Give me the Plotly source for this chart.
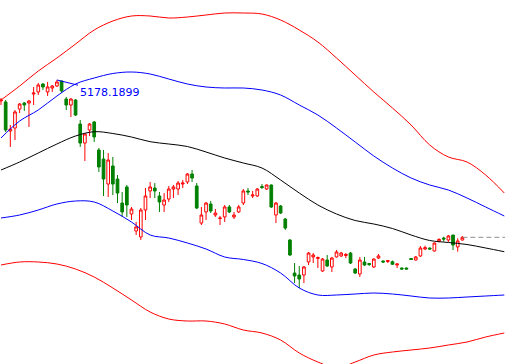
import plotly.graph_objects as go

# ---- candle data (index, OHLC) ----
opens = [4943, 4932, 4607, 4640, 4853, 4920, 4920, 5021, 5044, 5133,
         5044, 5088, 5111, 5167, 4965, 4898, 4954, 4685, 4472, 4618,
         4708, 4394, 4293, 4013, 4215, 4069, 3800, 3980, 3677, 3487,
         3420, 3722, 3935, 3968, 3879, 3778, 3845, 3957, 3957, 4013,
         4036, 4125, 3991, 3576, 3700, 3789, 3666, 3627, 3644, 3756,
         3644, 3700, 3800, 3935, 3879, 3879, 3985, 3957, 4002, 3666,
         3767, 3621, 3386, 3016, 2994, 2994, 3140, 3196, 3179, 3039,
         3162, 3084, 3196, 3207, 3212, 3240, 3061, 3005, 3140, 3123,
         3084, 3184, 3151, 3145, 3143, 3106, 3072, 3072, 3179, 3162,
         3207, 3285, 3296, 3263, 3375, 3408, 3386, 3442, 3308, 3386]
highs = [4976, 4954, 4674, 4842, 4920, 4932, 4954, 5100, 5144, 5144,
         5156, 5122, 5178.19, 5170, 4988, 4976, 4965, 4730, 4584, 4696,
         4719, 4416, 4394, 4360, 4316, 4114, 3924, 4002, 3756, 3588,
         3744, 3968, 4036, 4024, 3924, 3912, 3991, 4002, 4047, 4058,
         4136, 4170, 4024, 3756, 3812, 3823, 3733, 3655, 3778, 3778,
         3700, 3778, 3957, 3968, 3935, 3968, 4013, 4008, 4008, 3812,
         3778, 3632, 3397, 3128, 3095, 3095, 3252, 3240, 3201, 3184,
         3218, 3196, 3274, 3252, 3240, 3252, 3072, 3196, 3196, 3128,
         3179, 3229, 3156, 3162, 3156, 3128, 3078, 3078, 3184, 3207,
         3319, 3322, 3302, 3358, 3405, 3423, 3442, 3442, 3405, 3431]
lows = [4898, 4596, 4428, 4506, 4808, 4831, 4652, 4898, 5010, 5066,
        4999, 5044, 5100, 5032, 4842, 4764, 4775, 4428, 4271, 4551,
        4484, 4148, 3879, 3868, 3890, 3800, 3644, 3644, 3610, 3442,
        3386, 3610, 3856, 3856, 3700, 3700, 3812, 3856, 3890, 3968,
        4013, 4036, 3733, 3554, 3610, 3688, 3644, 3554, 3588, 3688,
        3621, 3688, 3778, 3890, 3856, 3868, 3957, 3946, 3744, 3576,
        3677, 3498, 3207, 2904, 2848, 2904, 3106, 3128, 3072, 3028,
        3084, 3028, 3190, 3196, 3184, 3117, 3005, 2972, 3095, 3095,
        3072, 3173, 3128, 3128, 3106, 3072, 3056, 3056, 3162, 3156,
        3196, 3274, 3280, 3257, 3360, 3367, 3364, 3274, 3255, 3380]
closes = [4954, 4618, 4629, 4820, 4909, 4898, 4943, 5032, 5122, 5100,
          5100, 5111, 5156, 5055, 4898, 4965, 4786, 4472, 4573, 4685,
          4540, 4204, 4069, 4282, 4013, 3912, 3700, 3778, 3733, 3532,
          3722, 3879, 3980, 3935, 3812, 3834, 3957, 3980, 4024, 4024,
          4125, 4080, 3744, 3666, 3800, 3711, 3688, 3632, 3756, 3700,
          3666, 3756, 3935, 3924, 3890, 3957, 3974, 4002, 3756, 3800,
          3688, 3520, 3218, 2983, 2949, 3084, 3240, 3218, 3190, 3173,
          3095, 3184, 3252, 3240, 3224, 3128, 3016, 3162, 3106, 3112,
          3173, 3207, 3140, 3156, 3114, 3117, 3061, 3061, 3168, 3196,
          3296, 3300, 3285, 3352, 3392, 3397, 3431, 3330, 3375, 3416]
days = list(range(len(opens)))

# ---- band lines (sampled every 4 bars, extending past last bar) ----
band_x = list(range(0, 109, 4))
upper_outer = [4954, 5110.8, 5278.8, 5424.4, 5581.2, 5738, 5838.8, 5894.8, 5894.8, 5872.4,
               5883.6, 5906, 5928.4, 5928.4, 5917.2, 5850, 5738, 5603.6, 5424.4, 5234,
               5043.6, 4864.4, 4674, 4450, 4315.6, 4259.6, 4114, 3912.4]
upper_inner = [4528.4, 4718.8, 4842, 4998.8, 5133.2, 5200.4, 5250.8, 5267.6, 5245.2, 5189.2,
               5133.2, 5099.6, 5088.4, 5088.4, 5066, 5010, 4898, 4786, 4640.4, 4483.6,
               4326.8, 4192.4, 4080.4, 4002, 3946, 3856.4, 3755.6, 3654.8]
middle = [4170, 4259.6, 4360.4, 4461.2, 4550.8, 4599, 4578.8, 4539.6, 4487, 4461.2,
          4433.2, 4371.6, 4304.4, 4248.4, 4192.4, 4058, 3912.4, 3778, 3677.2, 3604.4,
          3565.2, 3514.8, 3442, 3380.4, 3358, 3335.6, 3296.4, 3255]
lower_inner = [3632.4, 3666, 3722, 3789.2, 3822.8, 3811.6, 3710.8, 3587.6, 3442, 3408.4,
               3352.4, 3285.2, 3195.6, 3167.6, 3122.8, 3016.4, 2848.4, 2770, 2770, 2781.2,
               2792.4, 2781.2, 2758.8, 2736.4, 2736.4, 2747.6, 2758.8, 2770]
lower_outer = [3106, 3139.6, 3139.6, 3117.2, 3061.2, 2971.6, 2848.4, 2714, 2579.6, 2501.2,
               2478.8, 2478.8, 2445.2, 2378, 2344.4, 2266, 2120.4, 2019.6, 1952.4, 2019.6,
               2098, 2131.6, 2154, 2176.4, 2210, 2243.6, 2299.6, 2344.4]

peak_label = "5178.1899"
peak_index = 12
peak_value = 5178.19

fig = go.Figure()

def band(y, color):
    fig.add_trace(go.Scatter(x=band_x, y=y, mode="lines", line=dict(color=color, width=1, shape="spline"),
                             hoverinfo="skip", showlegend=False))

band(upper_outer, "#ff0000")
band(lower_outer, "#ff0000")
band(upper_inner, "#0000ff")
band(lower_inner, "#0000ff")
band(middle, "#000000")

fig.add_trace(go.Candlestick(
    x=days, open=opens, high=highs, low=lows, close=closes,
    increasing=dict(line=dict(color="#ff0000", width=1), fillcolor="#ffffff"),
    decreasing=dict(line=dict(color="#008000", width=1), fillcolor="#008000"),
    whiskerwidth=0, showlegend=False))

# last close dashed line
fig.add_trace(go.Scatter(x=[days[-1], 108.2], y=[closes[-1], closes[-1]], mode="lines",
                         line=dict(color="#909090", width=1, dash="5px,3px"),
                         hoverinfo="skip", showlegend=False))

fig.add_annotation(x=peak_index, y=peak_value, text=peak_label, showarrow=True,
                   arrowhead=0, arrowwidth=1, arrowcolor="#0000ff", ax=52.6, ay=13,
                   standoff=0, font=dict(family="DejaVu Sans", size=11, color="#0000ff"))

fig.update_layout(
    width=505, height=364, margin=dict(l=0, r=0, t=0, b=0),
    paper_bgcolor="white", plot_bgcolor="white", showlegend=False,
    boxgap=0.18,
    xaxis=dict(range=[-0.215, 108.15], visible=False, rangeslider=dict(visible=False), fixedrange=True),
    yaxis=dict(range=[1997.2, 6074], visible=False, fixedrange=True),
)

fig.write_html("out.html", config={"displayModeBar": False},
               post_script="document.body.style.margin='0';document.body.style.overflow='hidden';")
